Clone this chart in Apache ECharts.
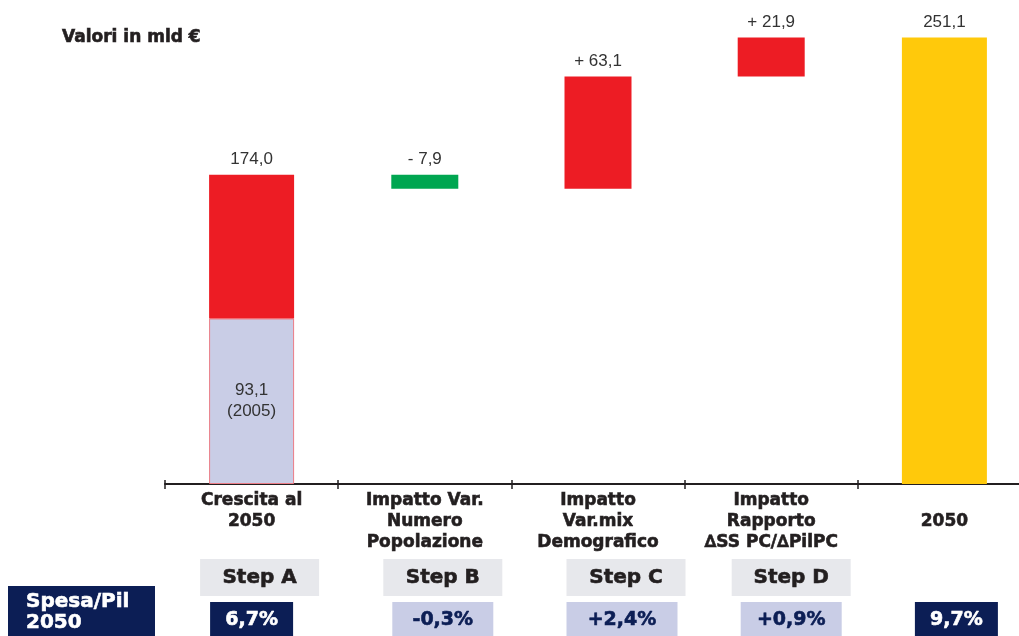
<!DOCTYPE html>
<html>
<head>
<meta charset="utf-8">
<script src="https://cdn.jsdelivr.net/npm/echarts@6/dist/echarts.min.js"></script>
<style>
  html, body { margin: 0; padding: 0; background: #fff; }
  #main { width: 1019px; height: 636px; }
</style>
</head>
<body>
<div id="main"></div>
<script>
// Spesa (mld €): scomposizione della crescita 2005 → 2050
const categories = ['Crescita al\n2050', 'Impatto Var.\nNumero\nPopolazione', 'Impatto\nVar.mix\nDemografico', 'Impatto\nRapporto\n\u2206SS PC/\u2206PilPC', '\n2050'];
const spesa2005 = 93.1;
const spesaCrescita = 174.0;
const impatti = [-7.9, 63.1, 21.9];          // Step B, C, D
const spesa2050 = 251.1;
const stepLabels = ['Step A', 'Step B', 'Step C', 'Step D'];
const spesaPil = ['6,7%', '-0,3%', '+2,4%', '+0,9%', '9,7%'];

const RED = '#ED1C24', GREEN = '#00A651', YELLOW = '#FFC90B', LAVENDER = '#C9CDE6', NAVY = '#0C1E55', STEPGRAY = '#E7E8EC';
const INK = '#231F20';
const BOLD = 'DejaVu Sans';
const PLAIN = 'Liberation Sans, Arial, sans-serif';

const fmt = v => Math.abs(v).toFixed(1).replace('.', ',');
const signed = v => (v < 0 ? '- ' : '+ ') + fmt(v);

// floating bars: invisible base + visible delta
const helper = ['-'], verdi = ['-'], rossi = ['-'];
let livello = spesaCrescita;
impatti.forEach(d => {
  helper.push(d < 0 ? livello + d : livello);
  verdi.push(d < 0 ? -d : '-');
  rossi.push(d > 0 ? d : '-');
  livello += d;
});
helper.push('-'); verdi.push('-'); rossi.push('-');

const baseSeries = [spesa2005, '-', '-', '-', '-'];
const crescitaSeries = [+(spesaCrescita - spesa2005).toFixed(1), '-', '-', '-', '-'];
const finaleSeries = ['-', '-', '-', '-', spesa2050];

const topLabel = (fn) => ({
  show: true, position: 'top', distance: 7,
  fontFamily: PLAIN, fontSize: 17, color: '#333',
  formatter: fn
});

const GRID_H = 480;
const chart = echarts.init(document.getElementById('main'));
chart.setOption({
  animation: false,
  title: {
    text: 'Valori in mld \u20AC', left: 57, top: 24,
    textStyle: { fontFamily: BOLD, fontWeight: 'bold', fontSize: 17, color: INK, textBorderColor: INK, textBorderWidth: 0.6 }
  },
  // the last category runs past the right edge of the canvas
  grid: { left: 165, width: 866, top: 4, height: GRID_H, outerBoundsMode: 'none', containLabel: false },
  xAxis: [{
    type: 'category', data: categories, position: 'bottom',
    axisLine: { lineStyle: { color: INK, width: 2 } },
    axisTick: { show: true, length: 5, lineStyle: { color: INK, width: 1.5 } },
    axisLabel: {
      interval: 0, margin: 6, fontFamily: BOLD, fontWeight: 'bold',
      fontSize: 17, lineHeight: 21, color: INK, textBorderColor: INK, textBorderWidth: 0.6
    }
  }, {
    // same categories, drawn on the baseline with ticks pointing up
    type: 'category', data: categories, position: 'top', offset: -GRID_H,
    axisLine: { show: false },
    axisTick: { show: true, length: 4, lineStyle: { color: INK, width: 1.5 } },
    axisLabel: { show: false }
  }],
  yAxis: { type: 'value', min: 0, max: 270, show: false },
  series: [
    {
      name: 'Spesa 2005', type: 'bar', stack: 'wide', xAxisIndex: 0, barWidth: 85,
      data: baseSeries,
      itemStyle: { color: LAVENDER, borderColor: '#EC7C86', borderWidth: 1 },
      label: {
        show: true, position: 'inside', fontFamily: PLAIN, fontSize: 17, lineHeight: 21, color: '#333',
        formatter: p => fmt(p.value) + '\n(2005)'
      }
    },
    {
      name: 'Crescita', type: 'bar', stack: 'wide', xAxisIndex: 0, barWidth: 85,
      data: crescitaSeries,
      itemStyle: { color: RED },
      label: topLabel(() => fmt(spesaCrescita))
    },
    {
      name: '2050', type: 'bar', stack: 'wide', xAxisIndex: 0, barWidth: 85,
      data: finaleSeries,
      itemStyle: { color: YELLOW },
      label: topLabel(p => fmt(p.value))
    },
    {
      name: 'base', type: 'bar', stack: 'narrow', xAxisIndex: 1, barWidth: 67,
      data: helper, silent: true,
      itemStyle: { color: 'transparent' }
    },
    {
      name: 'Riduzione', type: 'bar', stack: 'narrow', xAxisIndex: 1, barWidth: 67,
      data: verdi,
      itemStyle: { color: GREEN },
      label: topLabel(p => signed(-p.value))
    },
    {
      name: 'Aumento', type: 'bar', stack: 'narrow', xAxisIndex: 1, barWidth: 67,
      data: rossi,
      itemStyle: { color: RED },
      label: topLabel(p => signed(p.value))
    }
  ]
});

// Tabella sotto l'asse: step e rapporto Spesa/Pil
const centri = categories.map((c, i) => chart.convertToPixel({ xAxisIndex: 0 }, i));
const stepShift = [8, 18, 28, 20];
const valShift = [0, 18, 24, 20, 12];
const valWidth = [83, 101, 111, 101, 83];
const graphics = [];

const boldText = (text, x, y, size, fill, extra) => ({
  type: 'text',
  style: Object.assign({ text, x, y, align: 'center', verticalAlign: 'middle',
    fontFamily: BOLD, fontWeight: 'bold', fontSize: size, fill, stroke: fill, lineWidth: 0.6 }, extra || {})
});

stepLabels.forEach((s, i) => {
  const cx = centri[i] + stepShift[i];
  graphics.push({ type: 'rect', shape: { x: cx - 59.5, y: 559, width: 119, height: 37 }, style: { fill: STEPGRAY } });
  graphics.push(boldText(s, cx, 578, 20, INK));
});

spesaPil.forEach((s, i) => {
  const cx = centri[i] + valShift[i];
  const scuro = i === 0 || i === spesaPil.length - 1;
  graphics.push({ type: 'rect', shape: { x: cx - valWidth[i] / 2, y: 602, width: valWidth[i], height: 34 }, style: { fill: scuro ? NAVY : LAVENDER } });
  graphics.push(boldText(s, cx, 620, 19, scuro ? '#FFFFFF' : NAVY));
});

graphics.push({ type: 'rect', shape: { x: 8, y: 586, width: 147, height: 50 }, style: { fill: NAVY } });
graphics.push(boldText('Spesa/Pil\n2050', 26, 591, 20, '#FFFFFF', { align: 'left', verticalAlign: 'top', lineHeight: 21 }));

chart.setOption({ graphic: graphics });
</script>
</body>
</html>
